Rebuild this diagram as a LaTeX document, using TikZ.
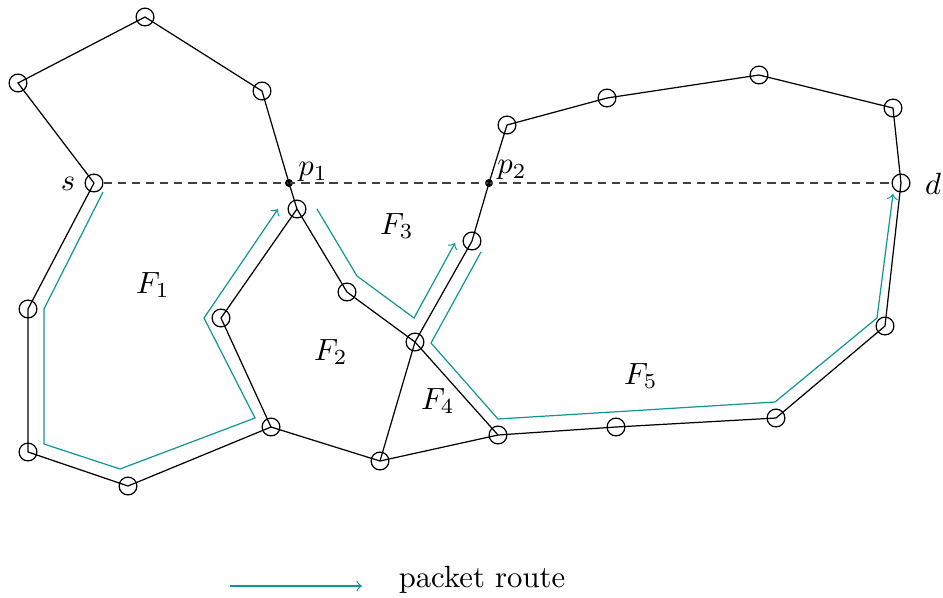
\documentclass[tikz,border=0pt]{standalone}
\definecolor{routecol}{RGB}{20,150,150}
\begin{document}
\begin{tikzpicture}[x=0.3257pt,y=-0.3257pt,
  vtx/.style={circle,draw,inner sep=0pt,minimum size=5.8pt,line width=0.4pt},
  link/.style={line width=0.4pt},
  guide/.style={black!75,line width=0.4pt,dash pattern=on 2.7pt off 1.9pt},
  route/.style={routecol,line width=0.4pt,->},
  crosspt/.style={circle,fill,inner sep=0pt,minimum size=2.6pt}]
\useasboundingbox (0,0) rectangle (943,597);

% vertices
\node[vtx] (s) at (94,183) {};
\node[vtx] (A) at (18,83) {};
\node[vtx] (B) at (145,17) {};
\node[vtx] (C) at (262,91) {};
\node[vtx] (D) at (297,209) {};
\node[vtx] (E) at (28,309) {};
\node[vtx] (F) at (28,452) {};
\node[vtx] (G) at (128,486) {};
\node[vtx] (H) at (271,427) {};
\node[vtx] (I) at (221,318) {};
\node[vtx] (J) at (347,292) {};
\node[vtx] (K) at (415,342) {};
\node[vtx] (L) at (498,435) {};
\node[vtx] (M) at (380,461) {};
\node[vtx] (N) at (472,241) {};
\node[vtx] (O) at (507,125) {};
\node[vtx] (P) at (607,98) {};
\node[vtx] (Q) at (759,75) {};
\node[vtx] (R) at (893,108) {};
\node[vtx] (d) at (901,183) {};
\node[vtx] (S) at (885,326) {};
\node[vtx] (T) at (776,418) {};
\node[vtx] (U) at (616,427) {};

% crossing points with the straight line s--d
\node[crosspt] (p1) at (289,183) {};
\node[crosspt] (p2) at (489,183) {};

% straight line from s to d
\draw[guide] (s.east) -- (d.west);

% edges
\draw[link] (s.center) -- (A.center) -- (B.center) -- (C.center) -- (p1.center) -- (D.center);
\draw[link] (s.center) -- (E.center) -- (F.center) -- (G.center) -- (H.center) -- (I.center) -- (D.center);
\draw[link] (D.center) -- (J.center) -- (K.center) -- (L.center);
\draw[link] (H.center) -- (M.center) -- (L.center);
\draw[link] (M.center) -- (K.center) -- (N.center) -- (p2.center) -- (O.center);
\draw[link] (O.center) -- (P.center) -- (Q.center) -- (R.center) -- (d.center);
\draw[link] (d.center) -- (S.center) -- (T.center) -- (U.center) -- (L.center);

% labels
\node (ls) at (68,184) {$s$};
\node (ld) at (933,184) {$d$};
\node (lp1) at (313,172) {$p_1$};
\node (lp2) at (512,170) {$p_2$};
\node (f1) at (153,285) {$F_1$};
\node (f2) at (331,352) {$F_2$};
\node (f3) at (397,226) {$F_3$};
\node (f4) at (438,401) {$F_4$};
\node (f5) at (641,376) {$F_5$};

% packet route
\draw[route] (103,192) -- (44,309) -- (44,444) -- (120,469) -- (255,418) -- (204,318) -- (278,209);
\draw[route] (317,209) -- (357,276) -- (414,318) -- (455,243);
\draw[route] (481,252) -- (431,343) -- (498,419) -- (775,402) -- (877,318) -- (893,194);

% legend
\coordinate (lg1) at (230,586);
\coordinate (lg2) at (362,586);
\draw[route] (lg1) -- (lg2);
\node (lgt) at (482,580) {packet route};
\end{tikzpicture}
\end{document}
